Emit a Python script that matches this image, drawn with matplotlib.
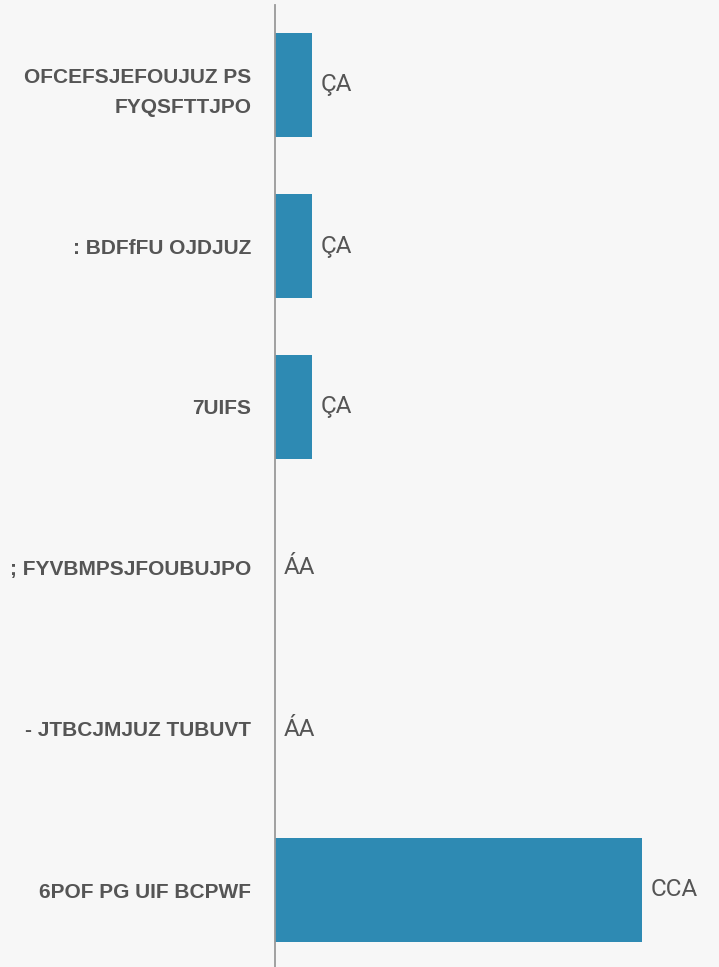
import matplotlib
matplotlib.use("Agg")
import matplotlib.pyplot as plt

categories = ["OFCEFSJEFOUJUZ PS\nFYQSFTTJPO", ": BDFfFU OJDJUZ", "7UIFS",
              "; FYVBMPSJFOUBUJPO", "- JTBCJMJUZ TUBUVT", "6POF PG UIF BCPWF"]
values = [1.1, 1.1, 1.1, 0.0, 0.0, 10.9]
value_labels = ["ÇA", "ÇA", "ÇA", "ÁA", "ÁA", "CCA"]

BG = "#f7f7f7"
BAR = "#2e8ab3"

fig = plt.figure(figsize=(7.19, 9.67), dpi=100, facecolor=BG)
ax = fig.add_axes([275/719, -3.5/967, 444/719, 966/967])
ax.set_facecolor(BG)

y = list(range(len(categories)))
ax.barh(y, values, height=0.646, color=BAR)
ax.set_ylim(len(categories) - 0.5, -0.5)
ax.set_xlim(0, 13.2)

for sp in ["top", "right", "bottom"]:
    ax.spines[sp].set_visible(False)
ax.spines["left"].set_color("#999999")
ax.spines["left"].set_linewidth(1.3)
ax.set_xticks([])
ax.set_yticks(y)
ax.set_yticklabels(categories, fontsize=15, fontweight="bold", color="#555555",
                   family=["Liberation Sans", "DejaVu Sans"], linespacing=1.75)
ax.tick_params(axis="y", length=0, pad=17)

for yi, v, lab in zip(y, values, value_labels):
    ax.annotate(lab, (v, yi), xytext=(6.5, 0), textcoords="offset points",
                va="center", ha="left", fontsize=17.5, color="#555555",
                family=["Roboto", "DejaVu Sans"], fontweight="normal")

fig.savefig("out.png", dpi=100, facecolor=BG)
